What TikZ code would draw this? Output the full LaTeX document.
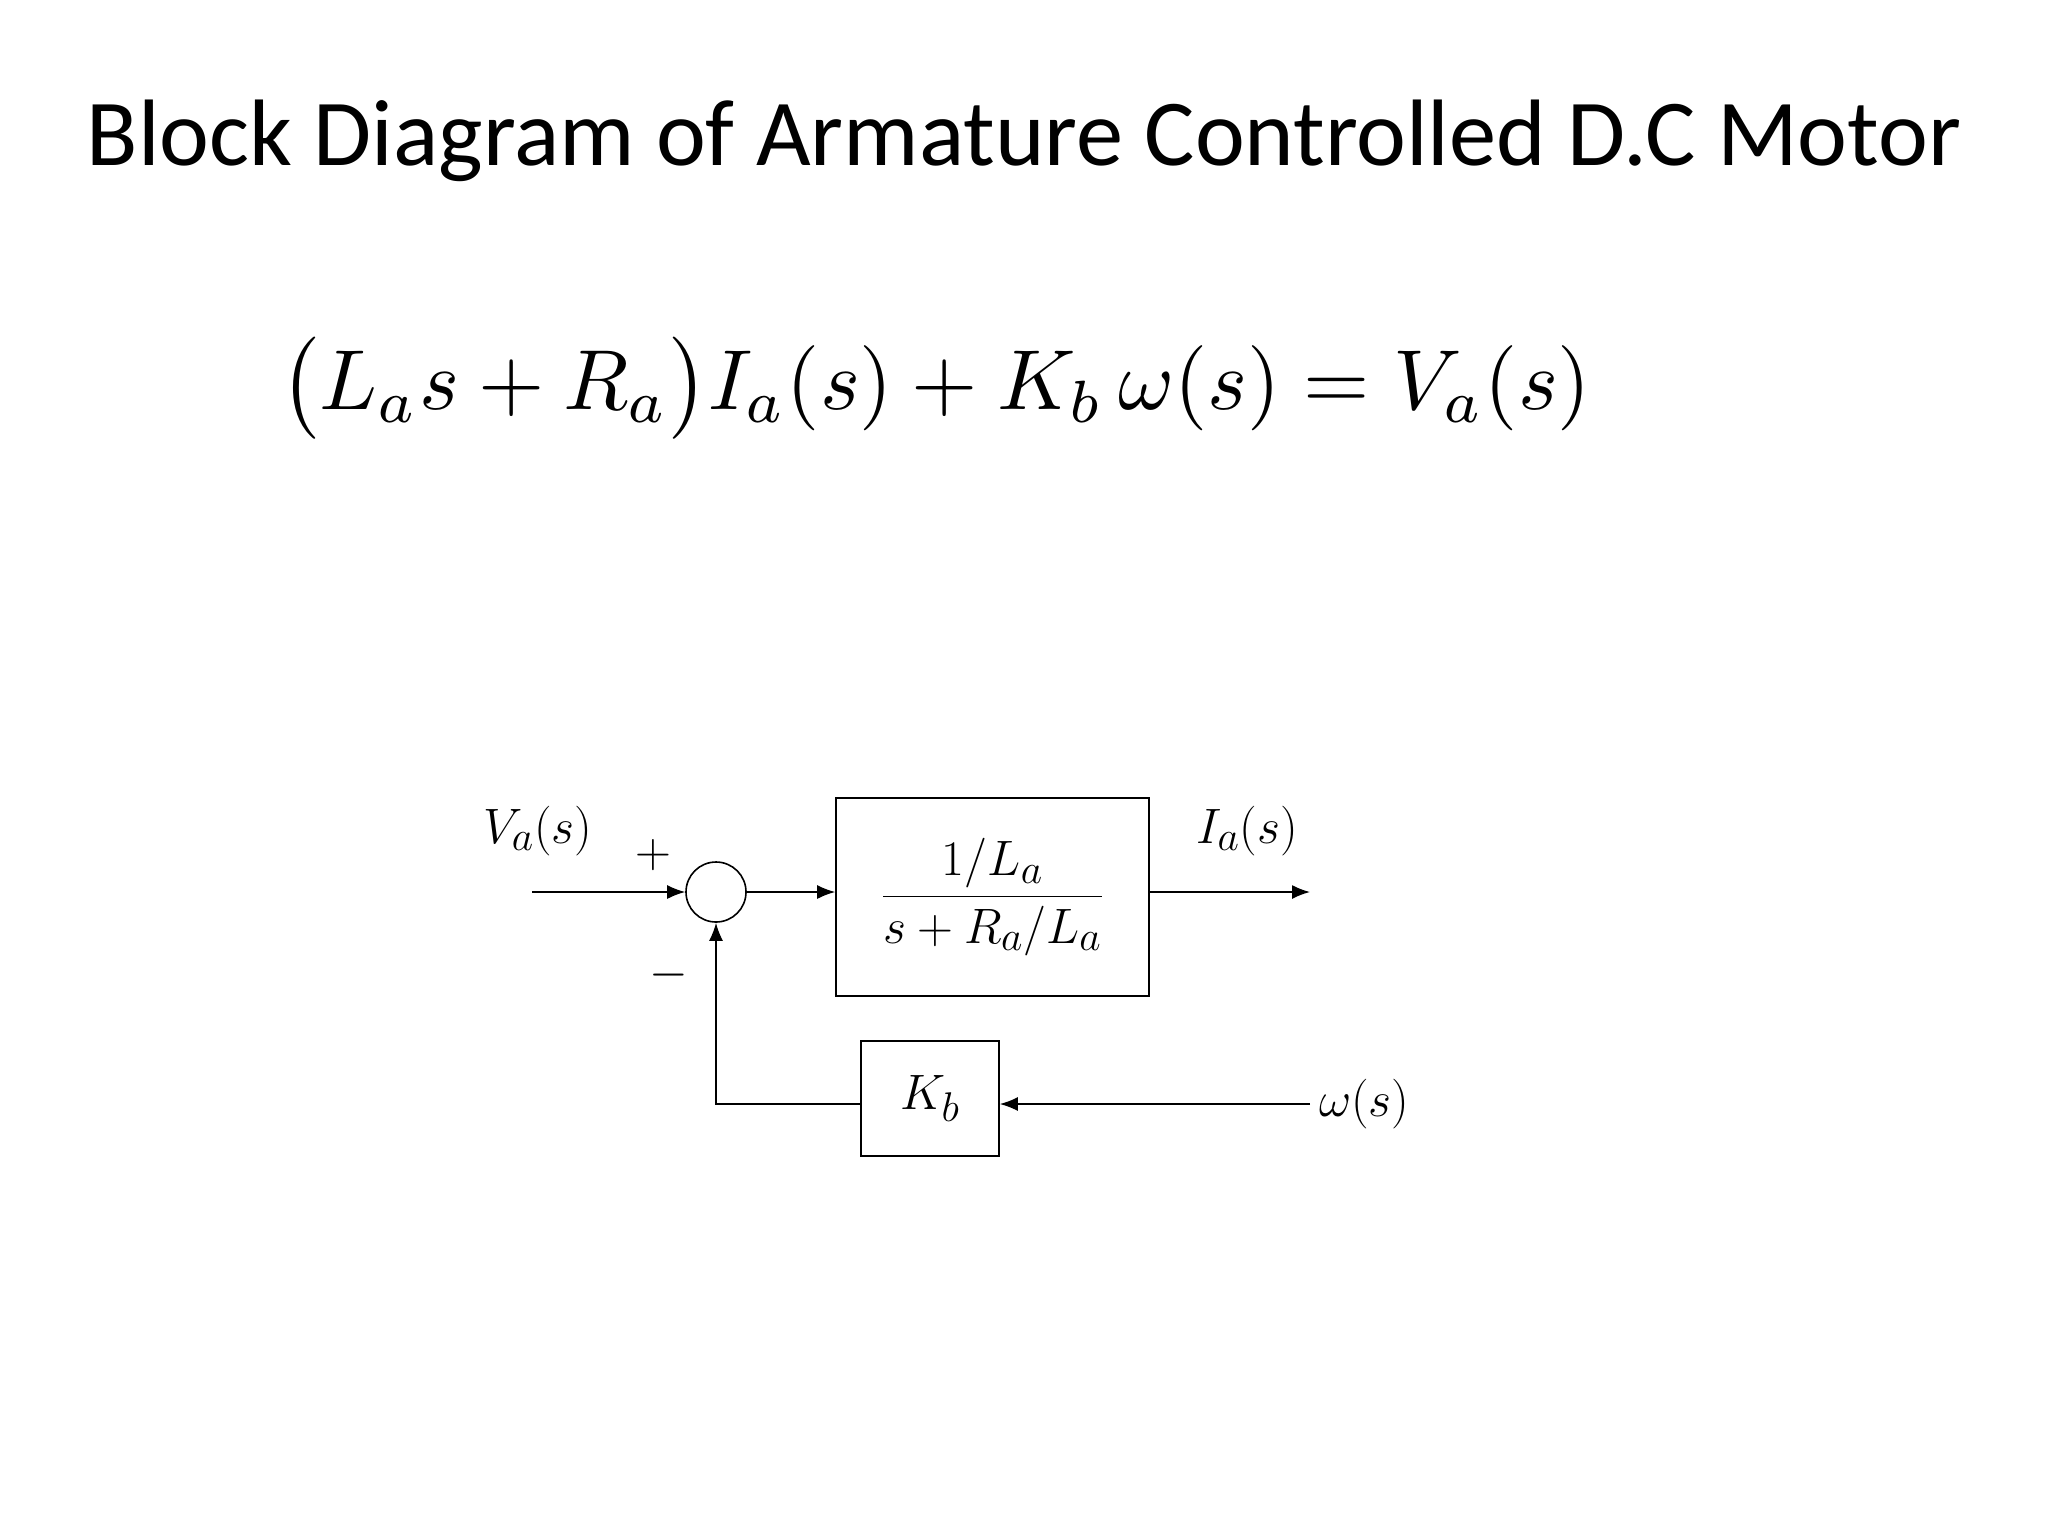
\documentclass[tikz,border=0pt]{standalone}
\usepackage{fontspec}
\usepackage{graphicx}
\newfontfamily\titlefont{Carlito}
\usetikzlibrary{arrows.meta}
\begin{document}
\begin{tikzpicture}[x=0.5pt,y=-0.5pt,
  blk/.style={draw,line width=0.8pt,inner sep=0pt},
  ln/.style={line width=0.8pt},
  arr/.style={ln,-{Latex[length=9pt,width=7pt]}},
  lbl/.style={font=\fontsize{30}{34}\selectfont}]
\useasboundingbox (0,0) rectangle (2048,1536);
\node (title) at (1024,141) {\resizebox{937pt}{!}{\titlefont Block Diagram of Armature Controlled D.C Motor}};
\node (eq) at (936,388) {\resizebox{655pt}{!}{$\bigl(L_a s+R_a\bigr)I_a(s)+K_b\,\omega(s)=V_a(s)$}};
\coordinate (in) at (532,892);
\node[draw,circle,line width=0.8pt,minimum size=30pt,inner sep=0pt] (sum) at (716,892) {};
\node[blk,minimum width=156.5pt,minimum height=99pt,lbl] (g) at (992.5,897) {$\displaystyle\frac{1/L_a}{s+R_a/L_a}$};
\node[blk,minimum width=69pt,minimum height=57.5pt,lbl] (kb) at (930,1098.5) {$K_b$};
\coordinate (out) at (1310,892);
\coordinate (wp) at (1310,1104);
\node[lbl,anchor=west] (w) at (1312,1104) {$\omega(s)$};
\node[lbl] (va) at (538,831) {$V_a(s)$};
\node[lbl] (ia) at (1247,831) {$I_a(s)$};
\node[lbl] (plus) at (653,855) {$+$};
\node[lbl] (minus) at (669,975) {$-$};
\draw[arr] (in) -- (sum.west);
\draw[arr] (sum.east) -- (g.west |- sum.east);
\draw[arr] (g.east |- out) -- (out);
\draw[arr] (wp) -- (kb.east |- wp);
\draw[arr] (kb.west |- wp) -- (sum.center |- wp) -- (sum.south);
\end{tikzpicture}
\end{document}
